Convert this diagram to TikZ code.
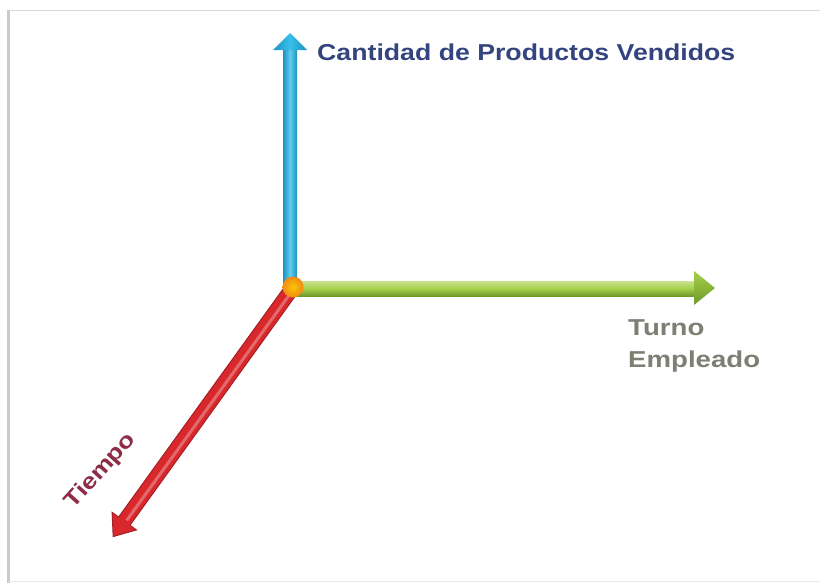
\documentclass[tikz,border=0pt]{standalone}
\usepackage{fontspec}
\setmainfont{Liberation Sans}
\usetikzlibrary{calc}
\definecolor{bluemid}{HTML}{38C0EA}
\definecolor{bluedark}{HTML}{1E90C2}
\definecolor{greenmid}{HTML}{A5D04A}
\definecolor{greendark}{HTML}{6E9A2A}
\definecolor{redmid}{HTML}{D9282C}
\definecolor{reddark}{HTML}{A81E26}
\definecolor{ballorange}{HTML}{F28A12}
\definecolor{titleblue}{HTML}{34447E}
\definecolor{graylabel}{HTML}{7E7E72}
\definecolor{tiempored}{HTML}{8E2C48}
\definecolor{framegray}{HTML}{C9C9CF}
\begin{document}
\begin{tikzpicture}[x=1pt,y=-1pt,
  lbl/.style={inner sep=0pt},
  ball/.style={circle, minimum size=21pt, inner sep=0pt, inner color=yellow!50!ballorange, outer color=ballorange, draw=none}]
\useasboundingbox (0,0) rectangle (820,584);
\fill[white] (0,0) rectangle (820,584);
% frame
\draw[framegray, line width=2.5pt] (8.5,10) -- (8.5,583);
\draw[framegray!70, line width=1pt] (8.5,10) -- (820,10);
\draw[framegray!40, line width=1pt] (9,581) -- (820,581);

\coordinate (O) at (291,288);
\coordinate (Ytip) at (290,33);
\coordinate (Xtip) at (715,288);

% blue vertical axis
\shade[left color=bluedark, right color=bluedark, middle color=bluemid!80!white]
  (283,50) -- (297,50) -- (297,288) -- (283,288) -- cycle;
\shade[left color=bluedark, right color=bluedark, middle color=bluemid]
  (273,50) -- (Ytip) -- (307,50) -- cycle;

% green horizontal axis
\shade[top color=greenmid!60!white, bottom color=greendark, middle color=greenmid]
  (291,281) -- (694,281) -- (694,296) -- (291,296) -- cycle;
\shade[top color=greenmid, bottom color=greendark]
  (694,271) -- (Xtip) -- (694,305) -- cycle;

% red diagonal axis
\begin{scope}[shift={(291,290)}, rotate=-125.8]
  \fill[redmid, draw=reddark, line width=1pt]
    (0,-7) -- (285,-7) -- (285,-15) -- (304,0) -- (285,15) -- (285,7) -- (0,7) -- cycle;
  \fill[redmid!70!white] (2,-3) -- (283,-3) -- (283,0) -- (2,0) -- cycle;
\end{scope}
\coordinate (Ztip) at (113,537);

\node[ball] (origin) at (293,287) {};

\node[lbl, text=titleblue, anchor=west, xscale=1.16, font=\bfseries\fontsize{23}{26}\selectfont] (ylab) at (317,52) {Cantidad de Productos Vendidos};
\node[lbl, text=graylabel, anchor=west, xscale=1.2, font=\bfseries\fontsize{23}{26}\selectfont] (xlab1) at (628,328) {Turno};
\node[lbl, text=graylabel, anchor=west, xscale=1.2, font=\bfseries\fontsize{23}{26}\selectfont] (xlab2) at (628,362) {Empleado};
\node[lbl, text=tiempored, rotate=48, xscale=1.2, font=\bfseries\fontsize{22}{26}\selectfont] (zlab) at (101,471) {Tiempo};
\end{tikzpicture}
\end{document}
